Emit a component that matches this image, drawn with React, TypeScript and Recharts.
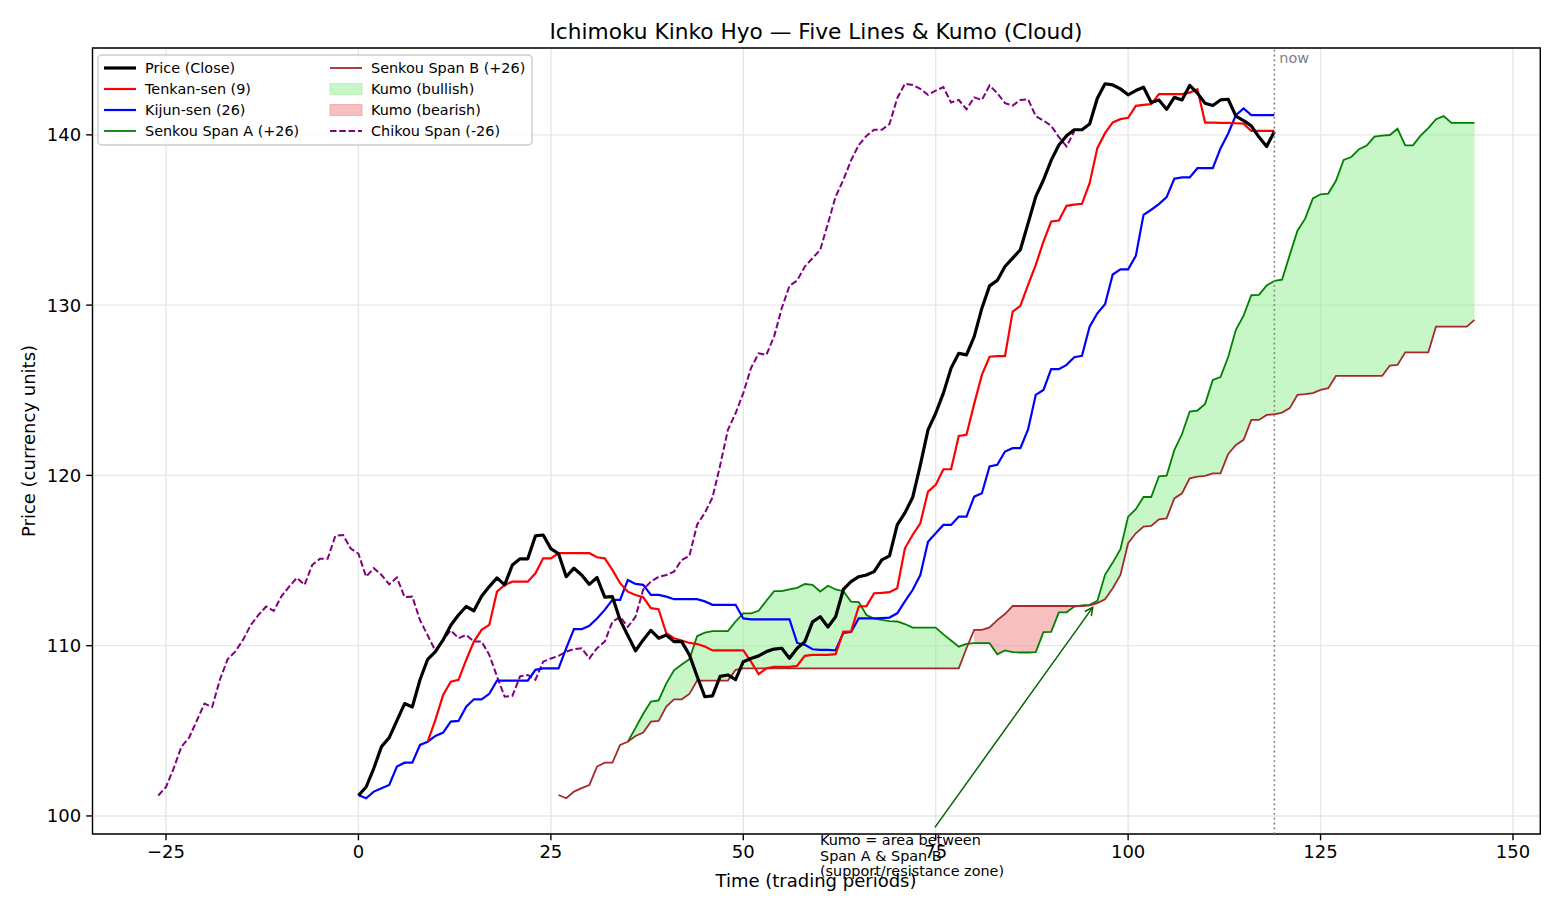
import React from 'react';
import {
  ComposedChart,
  Line,
  Area,
  XAxis,
  YAxis,
  CartesianGrid,
  ReferenceLine,
  ReferenceArea,
} from 'recharts';

const FONT = '"DejaVu Sans", "Liberation Sans", sans-serif';

// close price, periods 0..119
const closePrices = [
  101.2, 101.7, 102.8, 104.07, 104.6, 105.6, 106.6, 106.4, 108.0, 109.2,
  109.65, 110.34, 111.2, 111.8, 112.3, 112.05, 112.9, 113.47, 113.98, 113.57,
  114.74, 115.1, 115.1, 116.45, 116.5, 115.7, 115.4, 114.05, 114.55, 114.15,
  113.6, 114.0, 112.85, 112.88, 111.5, 110.6, 109.7, 110.34, 110.9, 110.44,
  110.63, 110.24, 110.24, 109.46, 108.2, 107.0, 107.05, 108.2, 108.28, 108.0,
  109.06, 109.25, 109.4, 109.65, 109.8, 109.85, 109.26, 109.85, 110.24, 111.4,
  111.7, 111.1, 111.7, 113.3, 113.76, 114.05, 114.15, 114.35, 115.04, 115.27,
  117.1, 117.8, 118.7, 120.6, 122.67, 123.65, 124.83, 126.3, 127.17, 127.08,
  128.15, 129.82, 131.13, 131.45, 132.27, 132.76, 133.25, 134.8, 136.37, 137.35,
  138.5, 139.4, 139.94, 140.3, 140.3, 140.64, 142.15, 143.0, 142.93, 142.7,
  142.35, 142.6, 142.8, 141.9, 142.05, 141.5, 142.2, 142.05, 142.9, 142.45,
  141.86, 141.72, 142.05, 142.09, 141.1, 140.84, 140.53, 139.87, 139.32, 140.2,
];

// tenkan-sen, periods 9..119
const TENKAN_START = 9;
const tenkanSen = [
  104.36, 105.64, 107.1, 107.89, 107.99, 109.16, 110.24, 110.93, 111.22, 113.17,
  113.57, 113.76, 113.76, 113.76, 114.25, 115.13, 115.13, 115.43, 115.43, 115.43,
  115.43, 115.43, 115.19, 115.13, 114.45, 113.67, 113.17, 112.98, 112.84, 112.2,
  112.14, 110.73, 110.44, 110.3, 110.16, 110.1, 109.95, 109.72, 109.72, 109.72,
  109.72, 109.72, 109.06, 108.33, 108.67, 108.75, 108.75, 108.75, 108.82, 109.4,
  109.46, 109.46, 109.46, 109.5, 110.83, 110.83, 112.3, 112.32, 113.08, 113.1,
  113.14, 113.37, 115.72, 116.5, 117.19, 119.05, 119.44, 120.36, 120.36, 122.32,
  122.38, 124.2, 125.9, 126.97, 127.0, 127.0, 129.62, 129.96, 131.19, 132.36,
  133.73, 134.91, 134.97, 135.83, 135.9, 135.95, 137.16, 139.22, 140.1, 140.73,
  140.92, 141.0, 141.7, 141.76, 141.8, 142.39, 142.39, 142.39, 142.39, 142.48,
  142.68, 140.72, 140.72, 140.7, 140.7, 140.68, 140.66, 140.23, 140.23, 140.23,
  140.23,
];

// kijun-sen, periods 0..119
const kijunSen = [
  101.23, 101.04, 101.43, 101.63, 101.82, 102.9, 103.13, 103.13, 104.17, 104.36,
  104.7, 104.9, 105.54, 105.58, 106.42, 106.85, 106.85, 107.17, 107.95, 107.95,
  107.95, 107.95, 107.95, 108.58, 108.67, 108.67, 108.67, 109.85, 110.97, 110.97,
  111.17, 111.6, 112.1, 112.69, 112.69, 113.86, 113.63, 113.57, 112.98, 112.98,
  112.88, 112.73, 112.73, 112.73, 112.73, 112.6, 112.4, 112.4, 112.4, 112.4,
  111.6, 111.55, 111.55, 111.55, 111.55, 111.55, 111.55, 110.16, 110.05, 109.79,
  109.75, 109.75, 109.73, 110.75, 110.8, 111.6, 111.6, 111.6, 111.62, 111.65,
  111.9, 112.6, 113.27, 114.15, 116.1, 116.6, 117.09, 117.09, 117.58, 117.58,
  118.75, 118.95, 120.52, 120.62, 121.4, 121.6, 121.6, 122.7, 124.73, 125.02,
  126.24, 126.24, 126.49, 126.94, 127.02, 128.74, 129.52, 130.05, 131.8, 132.1,
  132.1, 132.89, 135.3, 135.6, 135.93, 136.34, 137.42, 137.5, 137.5, 138.04,
  138.04, 138.04, 139.2, 140.08, 141.16, 141.55, 141.16, 141.16, 141.16, 141.16,
];

// senkou span A, plotted at periods 35..145
const SPAN_A_START = 35;
const senkouA = [
  104.36, 105.17, 106.0, 106.72, 106.79, 107.79, 108.55, 108.89, 109.2, 110.56,
  110.76, 110.86, 110.86, 110.86, 111.42, 111.9, 111.9, 112.05, 112.64, 113.2,
  113.2, 113.3, 113.4, 113.62, 113.57, 113.18, 113.52, 113.3, 113.2, 112.59,
  112.56, 111.8, 111.59, 111.52, 111.44, 111.42, 111.27, 111.06, 111.06, 111.06,
  111.06, 110.66, 110.3, 109.94, 110.11, 110.15, 110.15, 110.15, 109.49, 109.72,
  109.62, 109.6, 109.6, 109.62, 110.79, 110.81, 111.95, 111.96, 112.3, 112.36,
  112.4, 112.63, 114.16, 114.88, 115.67, 117.58, 118.02, 118.73, 118.73, 119.95,
  119.98, 121.48, 122.43, 123.75, 123.81, 124.2, 125.61, 125.78, 126.95, 128.55,
  129.38, 130.58, 130.6, 131.16, 131.42, 131.49, 132.95, 134.37, 135.08, 136.27,
  136.51, 136.55, 137.3, 138.53, 138.7, 139.16, 139.37, 139.9, 139.95, 139.99,
  140.36, 139.38, 139.38, 139.95, 140.39, 140.92, 141.1, 140.7, 140.7, 140.7,
  140.7,
];

// senkou span B, plotted at periods 26..145
const SPAN_B_START = 26;
const senkouB = [
  101.23, 101.04, 101.43, 101.63, 101.82, 102.9, 103.13, 103.13, 104.17, 104.36,
  104.7, 104.9, 105.54, 105.58, 106.42, 106.85, 106.85, 107.17, 107.95, 107.95,
  107.95, 107.95, 107.95, 108.58, 108.67, 108.67, 108.67, 108.67, 108.67, 108.67,
  108.67, 108.67, 108.67, 108.67, 108.67, 108.67, 108.67, 108.67, 108.67, 108.67,
  108.67, 108.67, 108.67, 108.67, 108.67, 108.67, 108.67, 108.67, 108.67, 108.67,
  108.67, 108.67, 108.67, 109.85, 110.93, 110.93, 111.07, 111.5, 111.86, 112.33,
  112.33, 112.33, 112.33, 112.33, 112.33, 112.33, 112.33, 112.33, 112.33, 112.37,
  112.5, 112.73, 113.37, 114.15, 116.02, 116.6, 116.99, 117.03, 117.42, 117.48,
  118.65, 118.95, 119.83, 119.93, 119.97, 120.12, 120.12, 121.26, 121.79, 122.09,
  123.26, 123.26, 123.55, 123.59, 123.69, 123.95, 124.73, 124.77, 124.83, 125.02,
  125.12, 125.84, 125.84, 125.84, 125.84, 125.84, 125.84, 125.84, 126.45, 126.49,
  127.23, 127.23, 127.23, 127.23, 128.74, 128.74, 128.74, 128.74, 128.74, 129.13,
];

const SHIFT = 26;
const NOW = 119;
const xTicks = [-25, 0, 25, 50, 75, 100, 125, 150];
const yTicks = [100, 110, 120, 130, 140];
const X_DOMAIN: [number, number] = [-34.55, 153.55];
const Y_DOMAIN: [number, number] = [98.94, 145.1];

type Row = {
  x: number;
  close?: number;
  tenkan?: number;
  kijun?: number;
  spanA?: number;
  spanB?: number;
  chikou?: number;
  bull?: [number, number] | null;
  bear?: [number, number] | null;
};

const rows: Row[] = [];
for (let x = -SHIFT; x <= SPAN_B_START + senkouB.length - 1; x++) {
  const row: Row = { x };
  if (x >= 0 && x < closePrices.length) row.close = closePrices[x];
  const ti = x - TENKAN_START;
  if (ti >= 0 && ti < tenkanSen.length) row.tenkan = tenkanSen[ti];
  if (x >= 0 && x < kijunSen.length) row.kijun = kijunSen[x];
  const ai = x - SPAN_A_START;
  if (ai >= 0 && ai < senkouA.length) row.spanA = senkouA[ai];
  const bi = x - SPAN_B_START;
  if (bi >= 0 && bi < senkouB.length) row.spanB = senkouB[bi];
  const ci = x + SHIFT;
  if (ci >= 0 && ci < closePrices.length) row.chikou = closePrices[ci];
  if (row.spanA !== undefined && row.spanB !== undefined) {
    const a = row.spanA;
    const b = row.spanB;
    row.bull = a >= b ? [b, a] : null;
    row.bear = a < b ? [a, b] : null;
  } else {
    row.bull = null;
    row.bear = null;
  }
  rows.push(row);
}

const fmtTick = (v: number) => (v < 0 ? `\u2212${Math.abs(v)}` : String(v));

const KumoArrow = (props: any) => {
  const { x1, y1, x2, y2 } = props;
  const ang = Math.atan2(y2 - y1, x2 - x1);
  const len = 8;
  const half = 4;
  const bx = x2 - len * Math.cos(ang);
  const by = y2 - len * Math.sin(ang);
  const ox = -Math.sin(ang) * half;
  const oy = Math.cos(ang) * half;
  return (
    <g>
      <line x1={x1} y1={y1} x2={x2} y2={y2} stroke="#006400" strokeWidth={1.5} />
      <polyline
        points={`${bx + ox},${by + oy} ${x2},${y2} ${bx - ox},${by - oy}`}
        fill="none"
        stroke="#006400"
        strokeWidth={1.5}
      />
    </g>
  );
};

type LegendItem = { label: string; kind: 'line' | 'patch'; color: string; width?: number; dash?: string; fill?: string };

const legendLeft: LegendItem[] = [
  { label: 'Price (Close)', kind: 'line', color: '#000000', width: 3.2 },
  { label: 'Tenkan-sen (9)', kind: 'line', color: '#ff0000', width: 2.2 },
  { label: 'Kijun-sen (26)', kind: 'line', color: '#0000ff', width: 2.2 },
  { label: 'Senkou Span A (+26)', kind: 'line', color: '#008000', width: 1.8 },
];
const legendRight: LegendItem[] = [
  { label: 'Senkou Span B (+26)', kind: 'line', color: '#a52a2a', width: 1.8 },
  { label: 'Kumo (bullish)', kind: 'patch', color: '#90ee90', fill: '#90ee90' },
  { label: 'Kumo (bearish)', kind: 'patch', color: '#f08080', fill: '#f08080' },
  { label: 'Chikou Span (-26)', kind: 'line', color: '#800080', width: 2, dash: '6.5 2.8' },
];

const LegendColumn = ({ items, x }: { items: LegendItem[]; x: number }) => (
  <g>
    {items.map((it, i) => {
      const cy = 68 + i * 21;
      return (
        <g key={it.label}>
          {it.kind === 'line' ? (
            <line
              x1={x}
              x2={x + 32}
              y1={cy}
              y2={cy}
              stroke={it.color}
              strokeWidth={it.width}
              strokeDasharray={it.dash}
            />
          ) : (
            <rect
              x={x}
              y={cy - 5.5}
              width={32}
              height={11}
              fill={it.fill}
              fillOpacity={0.5}
              stroke={it.color}
              strokeOpacity={0.5}
            />
          )}
          <text x={x + 41} y={cy} dominantBaseline="central" fontSize={14.4} fontFamily={FONT} fill="#000">
            {it.label}
          </text>
        </g>
      );
    })}
  </g>
);

export default function App() {
  return (
    <div style={{ position: 'absolute', left: 0, top: 0, width: 1560, height: 910, background: '#fff' }}>
      <ComposedChart
        width={1560}
        height={910}
        data={rows}
        margin={{ top: 48, right: 19.7, bottom: 36, left: 32.5 }}
      >
        <Area
          dataKey="bull"
          type="linear"
          stroke="none"
          fill="#90ee90"
          fillOpacity={0.5}
          connectNulls={false}
          isAnimationActive={false}
          activeDot={false}
        />
        <Area
          dataKey="bear"
          type="linear"
          stroke="none"
          fill="#f08080"
          fillOpacity={0.5}
          connectNulls={false}
          isAnimationActive={false}
          activeDot={false}
        />
        <CartesianGrid stroke="#e7e7e7" strokeWidth={1.4} />
        <XAxis
          dataKey="x"
          type="number"
          domain={X_DOMAIN}
          allowDataOverflow
          ticks={xTicks}
          tickFormatter={fmtTick}
          axisLine={false}
          tickSize={6.3}
          tickMargin={5}
          height={40}
          tickLine={{ stroke: '#000', strokeWidth: 1.4 }}
          tick={{ fontSize: 18, fill: '#000', fontFamily: FONT }}
        />
        <YAxis
          type="number"
          domain={Y_DOMAIN}
          allowDataOverflow
          ticks={yTicks}
          axisLine={false}
          width={60}
          tickSize={6.3}
          tickMargin={5}
          tickLine={{ stroke: '#000', strokeWidth: 1.4 }}
          tick={{ fontSize: 18, fill: '#000', fontFamily: FONT }}
        />
        <Line dataKey="spanA" type="linear" stroke="#008000" strokeWidth={1.8} dot={false} activeDot={false} isAnimationActive={false} />
        <Line dataKey="spanB" type="linear" stroke="#a52a2a" strokeWidth={1.8} dot={false} activeDot={false} isAnimationActive={false} />
        <Line dataKey="chikou" type="linear" stroke="#800080" strokeWidth={2} strokeDasharray="6.5 2.8" dot={false} activeDot={false} isAnimationActive={false} />
        <Line dataKey="kijun" type="linear" stroke="#0000ff" strokeWidth={2.2} dot={false} activeDot={false} isAnimationActive={false} />
        <Line dataKey="tenkan" type="linear" stroke="#ff0000" strokeWidth={2.2} dot={false} activeDot={false} isAnimationActive={false} />
        <Line dataKey="close" type="linear" stroke="#000000" strokeWidth={3.2} strokeLinejoin="round" dot={false} activeDot={false} isAnimationActive={false} />
        <ReferenceLine
          x={NOW}
          stroke="#808080"
          strokeWidth={1.6}
          strokeDasharray="1.8 3"
          label={{ value: 'now', position: 'insideTopLeft', offset: 5, fill: '#808080', fontSize: 14.4, fontFamily: FONT }}
        />
        <ReferenceLine
          segment={[{ x: 74.9, y: 99.33 }, { x: 95.4, y: 112.25 }]}
          ifOverflow="visible"
          shape={KumoArrow}
        />
        <ReferenceArea
          x1={X_DOMAIN[0]}
          x2={X_DOMAIN[1]}
          y1={Y_DOMAIN[0]}
          y2={Y_DOMAIN[1]}
          fill="none"
          stroke="#000"
          strokeWidth={1.4}
          ifOverflow="visible"
        />
      </ComposedChart>
      <svg
        width={1560}
        height={910}
        style={{ position: 'absolute', left: 0, top: 0, pointerEvents: 'none' }}
      >
        <text x={816} y={31} textAnchor="middle" dominantBaseline="central" fontSize={21.7} fontFamily={FONT} fill="#000">
          Ichimoku Kinko Hyo — Five Lines &amp; Kumo (Cloud)
        </text>
        <text x={816} y={880} textAnchor="middle" dominantBaseline="central" fontSize={18} fontFamily={FONT} fill="#000">
          Time (trading periods)
        </text>
        <text
          x={28}
          y={441}
          textAnchor="middle"
          dominantBaseline="central"
          fontSize={18}
          fontFamily={FONT}
          fill="#000"
          transform="rotate(-90 28 441)"
        >
          Price (currency units)
        </text>
        <rect x={98} y={55} width={434} height={90} rx={4} fill="#fff" fillOpacity={0.8} stroke="#cccccc" strokeWidth={1.4} />
        <LegendColumn items={legendLeft} x={104} />
        <LegendColumn items={legendRight} x={330} />
        <g fontSize={14.4} fontFamily={FONT} fill="#000">
          <text x={820} y={840} dominantBaseline="central">Kumo = area between</text>
          <text x={820} y={855.5} dominantBaseline="central">Span A &amp; Span B</text>
          <text x={820} y={871} dominantBaseline="central">(support/resistance zone)</text>
        </g>
      </svg>
    </div>
  );
}
